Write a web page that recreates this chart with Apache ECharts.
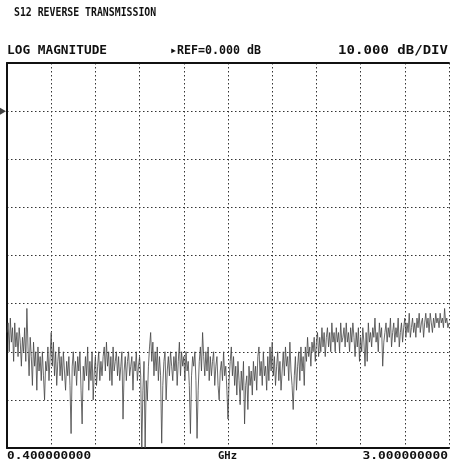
<!DOCTYPE html>
<html>
<head>
<meta charset="utf-8">
<script src="https://cdn.jsdelivr.net/npm/echarts@6/dist/echarts.min.js"></script>
<style>html,body{margin:0;padding:0;background:#fff;}#c{width:450px;height:472px;}</style>
</head>
<body>
<div id="c"></div>
<script>
// Header and axis texts
const titleText = "S12 REVERSE TRANSMISSION";
const formatText = "LOG MAGNITUDE";
const refText = "\u25B8REF=0.000 dB";
const scaleText = "10.000 dB/DIV";
const startLabel = "0.400000000";
const stopLabel = "3.000000000";
const unitLabel = "GHz";
const refLevel = 0;          // dB
const scalePerDiv = 10;      // dB/div
const yMin = -70, yMax = 10; // dB
const divisionsX = 10;

// Trace values (dB) at 401 evenly spaced sweep points
const s12dB = [
  -46,-44,-50,-43,-48,-45,-52,-44,-49,-46,
  -51,-45,-48,-53,-47,-50,-45,-52,-41,-49,
  -55,-47,-51,-57,-48,-53,-50,-58,-49,-54,
  -51,-56,-50,-55,-60,-52,-54,-49,-56,-51,
  -46,-53,-48,-55,-50,-57,-52,-49,-55,-51,
  -56,-50,-54,-58,-52,-55,-51,-57,-67,-53,
  -50,-55,-52,-57,-51,-54,-50,-58,-65,-53,
  -56,-51,-55,-49,-58,-52,-56,-50,-60,-54,
  -51,-57,-53,-50,-56,-52,-55,-51,-49,-54,
  -48,-53,-50,-56,-51,-57,-49,-54,-52,-50,
  -55,-51,-56,-53,-50,-64,-54,-51,-56,-52,
  -50,-55,-53,-51,-58,-52,-54,-50,-56,-53,
  -51,-55,-70,-58,-52,-70,-56,-60,-53,-49,
  -46,-52,-48,-55,-50,-54,-49,-56,-51,-55,
  -69,-57,-52,-50,-60,-54,-51,-55,-50,-53,
  -56,-51,-54,-50,-57,-52,-48,-55,-50,-53,
  -51,-56,-50,-54,-52,-57,-67,-55,-51,-53,
  -50,-56,-68,-58,-52,-49,-54,-46,-51,-55,
  -50,-54,-49,-56,-51,-55,-52,-50,-57,-53,
  -51,-57,-60,-54,-52,-56,-50,-55,-53,-58,
  -64,-56,-52,-49,-55,-51,-57,-53,-59,-52,
  -56,-61,-54,-58,-52,-65,-57,-55,-62,-53,
  -57,-54,-59,-52,-56,-53,-58,-51,-49,-55,
  -52,-57,-50,-55,-53,-58,-51,-56,-49,-54,
  -48,-55,-51,-57,-53,-50,-56,-52,-58,-54,
  -50,-55,-49,-53,-51,-56,-48,-54,-57,-62,
  -55,-51,-58,-53,-50,-56,-49,-54,-51,-57,
  -49,-52,-47,-51,-49,-53,-48,-50,-47,-52,
  -48,-46,-51,-47,-50,-45,-49,-46,-51,-47,
  -45,-49,-46,-50,-44,-48,-46,-50,-45,-48,
  -46,-50,-44,-48,-47,-45,-49,-44,-48,-46,
  -50,-45,-48,-44,-47,-51,-46,-49,-45,-52,
  -47,-50,-45,-48,-53,-46,-52,-44,-48,-46,
  -49,-45,-47,-43,-48,-46,-50,-44,-47,-45,
  -53,-48,-46,-44,-48,-45,-47,-43,-49,-46,
  -44,-48,-45,-47,-43,-49,-46,-44,-48,-45,
  -43,-47,-44,-46,-42,-47,-45,-43,-46,-44,
  -47,-43,-45,-42,-46,-44,-43,-47,-44,-42,
  -45,-43,-46,-42,-44,-46,-43,-45,-42,-44,
  -43,-45,-42,-44,-43,-45,-41,-44,-43,-45,
  -44
];

const N = s12dB.length;
const traceData = s12dB.map((v, i) => [i * divisionsX / (N - 1), v]);

const font = 'DejaVu Sans Mono';
function txt(text, x, y, size, sx, align) {
  return {
    type: 'text', x: x, y: y, scaleX: sx, scaleY: 1, z: 10,
    style: {
      text: text, fill: '#111', fontFamily: font, fontWeight: 'bold', fontSize: size,
      textAlign: align || 'left', textVerticalAlign: 'middle'
    }
  };
}
const dotted = {show: true, lineStyle: {color: '#333', width: 1, type: [1.5, 2.5]}};
const solidEdge = {show: true, onZero: false, lineStyle: {color: '#111', width: 2}};

const chart = echarts.init(document.getElementById('c'), null, {renderer: 'canvas'});
chart.setOption({
  animation: false,
  backgroundColor: '#fff',
  grid: {left: 7, right: 1, top: 63, bottom: 24, show: false},
  xAxis: [
    {
      type: 'value', min: 0, max: divisionsX, interval: 1, position: 'bottom',
      axisLine: solidEdge, axisTick: {show: false}, axisLabel: {show: false},
      splitLine: dotted
    },
    {
      type: 'value', min: 0, max: divisionsX, interval: 1, position: 'top',
      axisLine: solidEdge, axisTick: {show: false}, axisLabel: {show: false},
      splitLine: {show: false}
    }
  ],
  yAxis: {
    type: 'value', min: yMin, max: yMax, interval: scalePerDiv, position: 'left',
    axisLine: solidEdge, axisTick: {show: false}, axisLabel: {show: false},
    splitLine: dotted
  },
  series: [
    {
      type: 'line', data: traceData, showSymbol: false, symbol: 'none',
      lineStyle: {color: '#444', width: 0.8}, silent: true
    },
    {
      type: 'scatter', data: [[0, refLevel]], symbol: 'triangle', symbolSize: [7, 6],
      symbolRotate: -90, symbolOffset: [-4, 0], itemStyle: {color: '#111'}, silent: true,
      clip: false
    }
  ],
  graphic: [
    txt(titleText, 14, 13, 12, 0.82),
    txt(formatText, 7, 51, 12, 1.065),
    txt(refText, 170, 51, 12, 0.97),
    txt(scaleText, 448, 51, 12, 1.17, 'right'),
    txt(startLabel, 7, 456, 10, 1.27),
    txt(unitLabel, 218, 456, 10, 1.05),
    txt(stopLabel, 448, 456, 10, 1.29, 'right')
  ]
});
</script>
</body>
</html>
